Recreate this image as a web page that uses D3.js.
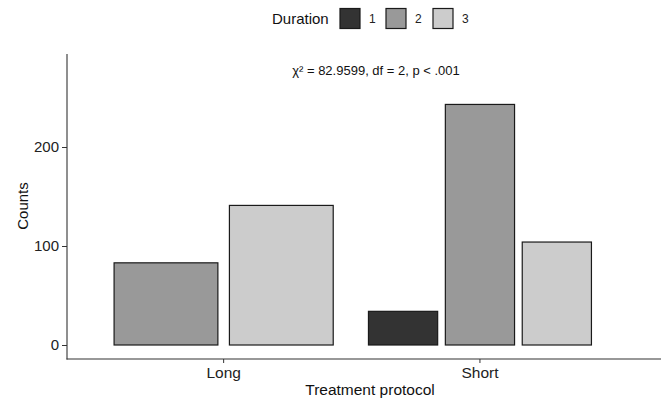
<!DOCTYPE html>
<html><head><meta charset="utf-8">
<script src="https://cdn.jsdelivr.net/npm/d3@7"></script>
<style>body{margin:0;background:#fff}svg{display:block;font-family:"Liberation Sans",Arial,sans-serif}</style>
</head><body><svg id="c" width="661" height="400"></svg>
<script>
const categories = ["Long", "Short"];
const durations = ["1", "2", "3"];
const countsLong = [null, 83, 141];
const countsShort = [34, 243, 104];
const yTicks = [0, 100, 200];
const colors = ["#333333", "#999999", "#CCCCCC"];
const annotation = "χ² = 82.9599, df = 2, p < .001";

const svg = d3.select("#c");
const x = d3.scaleBand().domain(categories).range([95.5, 608.1]).padding(0);
const y = d3.scaleLinear().domain([0, 200]).range([345, 147]);
const step = x.step();

const rows = [countsLong, countsShort];
const bars = [];
categories.forEach((c, i) => {
  const present = durations.map((d, j) => ({d, j, v: rows[i][j]})).filter(e => e.v != null);
  const n = present.length;
  const slot = 0.9 * step / n;
  const left = x(c) + x.bandwidth() / 2 - 0.45 * step;
  present.forEach((e, k) => {
    bars.push({cat: c, j: e.j, v: e.v, x0: left + k * slot + slot * 0.05, w: slot * 0.9});
  });
});

svg.append("g").selectAll("rect").data(bars).join("rect")
  .attr("x", d => d.x0).attr("width", d => d.w)
  .attr("y", d => y(d.v)).attr("height", d => y(0) - y(d.v))
  .attr("fill", d => colors[d.j]).attr("stroke", "#1a1a1a").attr("stroke-width", 1.2);

// axes
const yAxis = svg.append("g").attr("transform", "translate(67,0)")
  .call(d3.axisLeft(y).tickValues(yTicks).tickSize(5).tickPadding(3).tickSizeOuter(0));
yAxis.select(".domain").remove();
yAxis.selectAll("line").attr("stroke", "#333");
yAxis.selectAll("text").attr("fill", "#222").style("font-size", "15px").style("font-family", "Liberation Sans, Arial, sans-serif");
svg.append("line").attr("x1", 67).attr("x2", 67).attr("y1", 54).attr("y2", 359.5).attr("stroke", "#333").attr("stroke-width", 1.1);

const xAxis = svg.append("g").attr("transform", "translate(0,359)")
  .call(d3.axisBottom(x).tickSize(4).tickPadding(4).tickSizeOuter(0));
xAxis.select(".domain").remove();
xAxis.selectAll("line").attr("stroke", "#333");
xAxis.selectAll("text").attr("fill", "#222").style("font-size", "15.5px").style("font-family", "Liberation Sans, Arial, sans-serif");
svg.append("line").attr("x1", 66.5).attr("x2", 661).attr("y1", 359).attr("y2", 359).attr("stroke", "#333").attr("stroke-width", 1.1);

svg.append("text").attr("x", 370).attr("y", 395).attr("text-anchor", "middle")
  .style("font-size", "15.5px").attr("fill", "#111").text("Treatment protocol");
svg.append("text").attr("transform", "translate(28,206) rotate(-90)").attr("text-anchor", "middle")
  .style("font-size", "15px").attr("fill", "#111").text("Counts");

svg.append("text").attr("x", 376).attr("y", 75).attr("text-anchor", "middle")
  .style("font-size", "13px").attr("fill", "#111").text(annotation);

// legend
const lg = svg.append("g");
lg.append("text").attr("x", 272).attr("y", 24).style("font-size", "15px").attr("fill", "#111").text("Duration");
const lx = [340, 386, 433];
durations.forEach((d, i) => {
  lg.append("rect").attr("x", lx[i]).attr("y", 8.5).attr("width", 20).attr("height", 20)
    .attr("fill", colors[i]).attr("stroke", "#1a1a1a").attr("stroke-width", 1.2);
  lg.append("text").attr("x", lx[i] + 29).attr("y", 23).style("font-size", "12px").attr("fill", "#222").text(d);
});
</script></body></html>
